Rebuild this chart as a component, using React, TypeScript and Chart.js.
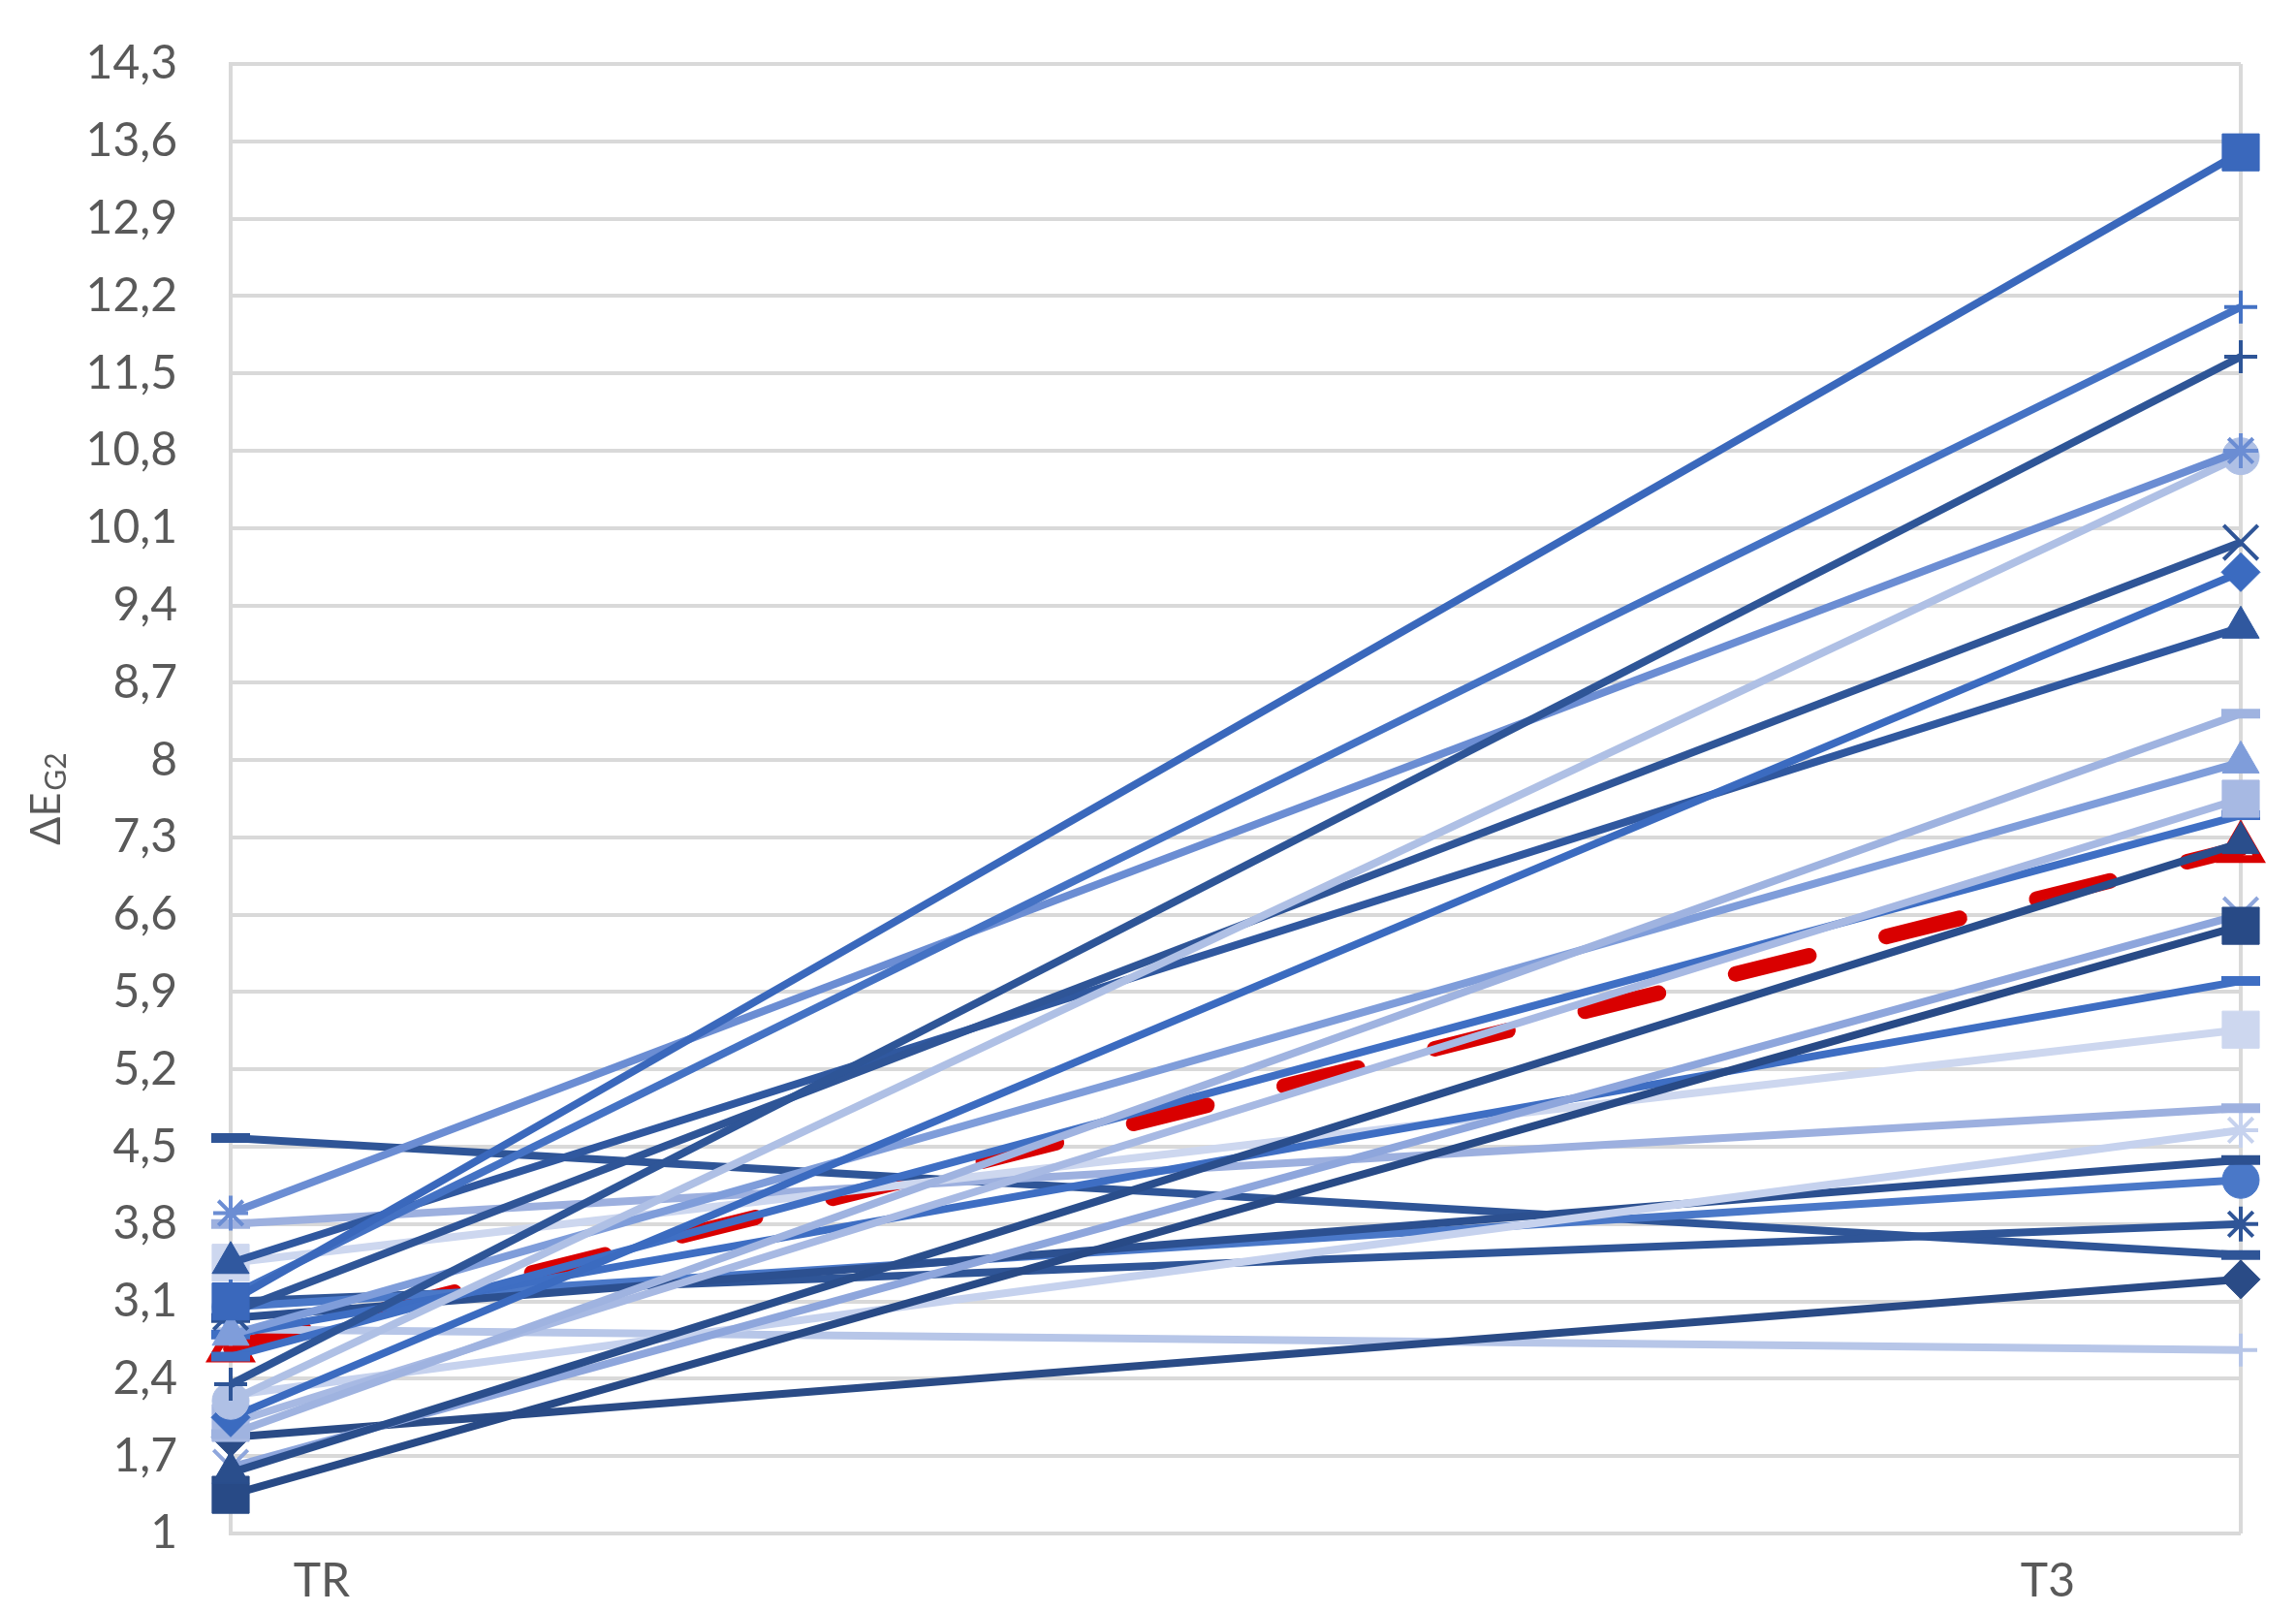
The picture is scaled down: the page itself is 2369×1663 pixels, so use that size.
import { useEffect, useRef } from 'react';
import { Chart, registerables } from 'chart.js';

Chart.register(...registerables);

const CATEGORIES = ['TR', 'T3'];
const Y_TICKS = [1, 1.7, 2.4, 3.1, 3.8, 4.5, 5.2, 5.9, 6.6, 7.3, 8, 8.7, 9.4, 10.1, 10.8, 11.5, 12.2, 12.9, 13.6, 14.3];

// individual samples: value at TR and value at T3
const TR_VALUES = [3.1, 3.15, 2.35, 3.9, 2.2, 3.0, 2.05, 3.45, 1.9, 2.8, 2.0, 2.6, 1.55, 1.35, 1.6, 2.8, 3.45, 3.8, 2.25, 2.95, 3.05, 3.1, 4.58, 1.87, 2.85];
const T3_VALUES = [13.5, 12.1, 11.65, 10.8, 10.75, 9.97, 9.7, 9.2, 8.42, 7.98, 7.65, 7.5, 7.25, 6.5, 6.6, 6.0, 5.56, 4.85, 4.65, 4.38, 4.2, 3.8, 3.52, 3.3, 2.66];
const MEAN_VALUES = [2.68, 7.2];

const SERIES_COLORS = [
  '#3A68BC', '#4472C4', '#2E5597', '#6B8DD3', '#AFC0E5',
  '#2F5597', '#3B6BC0', '#30589F', '#9FB3E0', '#7F9DDA',
  '#A7B9E3', '#3F6FC4', '#2A4E8C', '#284A86', '#8EA6DC',
  '#3E6EC3', '#CDD7EF', '#9DB0DF', '#C6D2EE', '#2C5090',
  '#4A78C8', '#2F5597', '#2F5597', '#2A4B86', '#B7C6E8',
];
const SERIES_MARKERS = [
  'rect', 'cross', 'cross', 'star', 'circle',
  'crossRot', 'rectRot', 'triangle', 'line', 'triangle',
  'rect', 'line', 'triangle', 'rect', 'crossRot',
  'line', 'rect', 'line', 'star', 'line',
  'circle', 'star', 'line', 'rectRot', 'cross',
];

const MARKER_RADIUS: Record<string, number> = {
  rect: 27, circle: 19, rectRot: 20, triangle: 22, cross: 17, crossRot: 25, star: 18, line: 20,
};
const MARKER_BORDER: Record<string, number> = {
  rect: 1, circle: 1, rectRot: 1, triangle: 1, cross: 4, crossRot: 4, star: 4, line: 10,
};

const TEXT_COLOR = '#595959';
const GRID_COLOR = '#D9D9D9';
const FONT = 'Lato, "Liberation Sans", sans-serif';

const labelPlugin = {
  id: 'customLabels',
  afterDraw(chart: any) {
    const { ctx, chartArea } = chart;
    const w = chartArea.right - chartArea.left;
    ctx.save();
    ctx.fillStyle = TEXT_COLOR;
    ctx.font = `48px ${FONT}`;
    ctx.textAlign = 'center';
    ctx.textBaseline = 'middle';
    ctx.fillText(CATEGORIES[0], chartArea.left + 0.0453 * w, chartArea.bottom + 50);
    ctx.fillText(CATEGORIES[1], chartArea.right - 0.096 * w, chartArea.bottom + 50);

    // y axis title: ΔE with subscript G2
    const main = 'ΔE';
    const sub = 'G2';
    ctx.translate(48, (chartArea.top + chartArea.bottom) / 2);
    ctx.rotate(-Math.PI / 2);
    ctx.font = `43px ${FONT}`;
    const w1 = ctx.measureText(main).width;
    ctx.font = `30px ${FONT}`;
    const w2 = ctx.measureText(sub).width;
    const total = w1 + w2 + 2;
    ctx.textAlign = 'left';
    ctx.textBaseline = 'middle';
    ctx.font = `43px ${FONT}`;
    ctx.fillText(main, -total / 2, 0);
    ctx.font = `30px ${FONT}`;
    ctx.fillText(sub, -total / 2 + w1 + 2, 10);
    ctx.restore();
  },
};

export default function App() {
  const ref = useRef<HTMLCanvasElement>(null);

  useEffect(() => {
    const datasets: any[] = TR_VALUES.map((l, i) => {
      const style = SERIES_MARKERS[i];
      const color = SERIES_COLORS[i];
      return {
        label: `Sample ${i + 1}`,
        data: [l, T3_VALUES[i]],
        borderColor: color,
        backgroundColor: color,
        borderWidth: 8,
        pointStyle: style,
        pointRadius: MARKER_RADIUS[style],
        pointBorderWidth: MARKER_BORDER[style],
        pointBackgroundColor: color,
        pointBorderColor: color,
        clip: false,
        tension: 0,
      };
    });
    datasets.push({
      label: 'Mean',
      data: MEAN_VALUES,
      borderColor: '#D90000',
      backgroundColor: 'rgba(0,0,0,0)',
      borderWidth: 16,
      borderDash: [78, 82],
      borderCapStyle: 'round',
      pointStyle: 'triangle',
      pointRadius: 22,
      pointBorderWidth: 8,
      pointBackgroundColor: 'rgba(0,0,0,0)',
      pointBorderColor: '#D90000',
      clip: false,
      tension: 0,
    });

    const chart = new Chart(ref.current!, {
      type: 'line',
      data: { labels: CATEGORIES, datasets },
      options: {
        responsive: false,
        devicePixelRatio: 1,
        animation: false,
        layout: { padding: { top: 66, right: 57, bottom: 81, left: 0 } },
        plugins: { legend: { display: false }, tooltip: { enabled: false } },
        scales: {
          x: {
            type: 'category',
            offset: false,
            ticks: { display: false },
            grid: { color: GRID_COLOR, lineWidth: 4, drawTicks: false },
            border: { display: false },
            afterFit: (s: any) => { s.height = 0; s.paddingLeft = 0; s.paddingRight = 0; },
          },
          y: {
            min: 1,
            max: 14.3,
            afterBuildTicks: (s: any) => { s.ticks = Y_TICKS.map((v) => ({ value: v })); },
            afterFit: (s: any) => { s.width = 238; s.paddingTop = 0; s.paddingBottom = 0; },
            ticks: {
              padding: 55,
              color: TEXT_COLOR,
              font: { family: FONT, size: 48 },
              callback: (v: any) => String(v).replace('.', ','),
            },
            grid: { color: GRID_COLOR, lineWidth: 4, drawTicks: false },
            border: { display: true, color: GRID_COLOR, width: 4 },
          },
        },
      } as any,
      plugins: [labelPlugin],
    });
    return () => chart.destroy();
  }, []);

  return (
    <div style={{ position: 'fixed', left: 0, top: 0, width: 2369, height: 1663, background: '#ffffff' }}>
      <canvas ref={ref} width={2369} height={1663} style={{ display: 'block', width: 2369, height: 1663 }} />
    </div>
  );
}
